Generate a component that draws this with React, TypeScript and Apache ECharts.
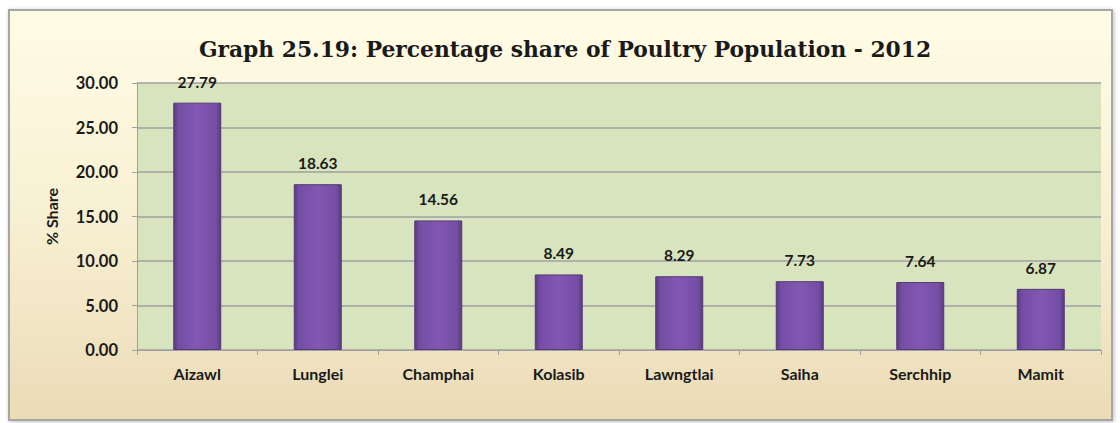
import React, { useEffect, useRef } from "react";
import * as echarts from "echarts";

const categories = ["Aizawl", "Lunglei", "Champhai", "Kolasib", "Lawngtlai", "Saiha", "Serchhip", "Mamit"];
const shares = [27.79, 18.63, 14.56, 8.49, 8.29, 7.73, 7.64, 6.87];
const titleText = "Graph 25.19: Percentage share of Poultry Population - 2012";
const yAxisName = "% Share";

export default function App() {
  const ref = useRef<HTMLDivElement>(null);
  useEffect(() => {
    const chart = echarts.init(ref.current!, null, { renderer: "svg" });
    const barColor = new echarts.graphic.LinearGradient(0, 0, 1, 0, [
      { offset: 0, color: "#5A3983" },
      { offset: 0.1, color: "#744EA3" },
      { offset: 0.5, color: "#8357B4" },
      { offset: 0.9, color: "#744EA3" },
      { offset: 1, color: "#5A3983" },
    ]);
    chart.setOption({
      animation: false,
      graphic: [
        {
          type: "rect",
          z: -10,
          shape: { x: 9, y: 10, width: 1103, height: 410 },
          style: {
            fill: new echarts.graphic.LinearGradient(0, 0, 0, 1, [
              { offset: 0, color: "#FFFCE6" },
              { offset: 0.5, color: "#F8F0D3" },
              { offset: 1, color: "#EBDBB6" },
            ]),
            stroke: "#A6A6A6",
            lineWidth: 2,
            shadowColor: "rgba(0,0,0,0.25)",
            shadowBlur: 4,
            shadowOffsetX: 1,
            shadowOffsetY: 1,
          },
        },
      ],
      title: {
        text: titleText,
        left: 560,
        textAlign: "center",
        top: 33,
        textStyle: {
          fontFamily: "DejaVu Serif",
          fontWeight: "bold",
          fontSize: 21.8,
          color: "#1a1a1a",
        },
      },
      grid: {
        left: 137,
        right: 19,
        top: 83,
        bottom: 73,
        show: true,
        backgroundColor: "#D7E4BD",
        borderWidth: 0,
      },
      xAxis: {
        type: "category",
        data: categories,
        axisLine: { lineStyle: { color: "#A0A0A0", width: 1 } },
        axisTick: { show: true, length: 5, lineStyle: { color: "#A0A0A0" } },
        axisLabel: {
          margin: 15,
          fontFamily: "Lato",
          fontWeight: "bold",
          fontSize: 16,
          color: "#1a1a1a",
        },
      },
      yAxis: {
        type: "value",
        min: 0,
        max: 30,
        interval: 5,
        name: yAxisName,
        nameLocation: "middle",
        nameGap: 78,
        nameTextStyle: {
          fontFamily: "Lato",
          fontWeight: "bold",
          fontSize: 16,
          color: "#1a1a1a",
        },
        axisLine: { show: true, lineStyle: { color: "#A0A0A0" } },
        axisTick: { show: true, length: 5, lineStyle: { color: "#A0A0A0" } },
        splitLine: { lineStyle: { color: "#A0A0A0", width: 1.5 } },
        axisLabel: {
          formatter: (v: number) => v.toFixed(2),
          margin: 19,
          fontFamily: "Lato",
          fontWeight: "bold",
          fontSize: 16.5,
          color: "#1a1a1a",
        },
      },
      series: [
        {
          type: "bar",
          data: shares,
          barWidth: 48,
          itemStyle: {
            color: barColor,
            borderColor: "#573878",
            borderWidth: 1,
          },
          label: {
            show: true,
            position: "top",
            distance: 13,
            formatter: (p: any) => Number(p.value).toFixed(2),
            fontFamily: "Lato",
            fontWeight: "bold",
            fontSize: 15.5,
            color: "#1a1a1a",
          },
        },
      ],
    });
    return () => chart.dispose();
  }, []);
  return (
    <div
      ref={ref}
      style={{ position: "absolute", left: 0, top: 0, width: 1120, height: 423 }}
    />
  );
}
